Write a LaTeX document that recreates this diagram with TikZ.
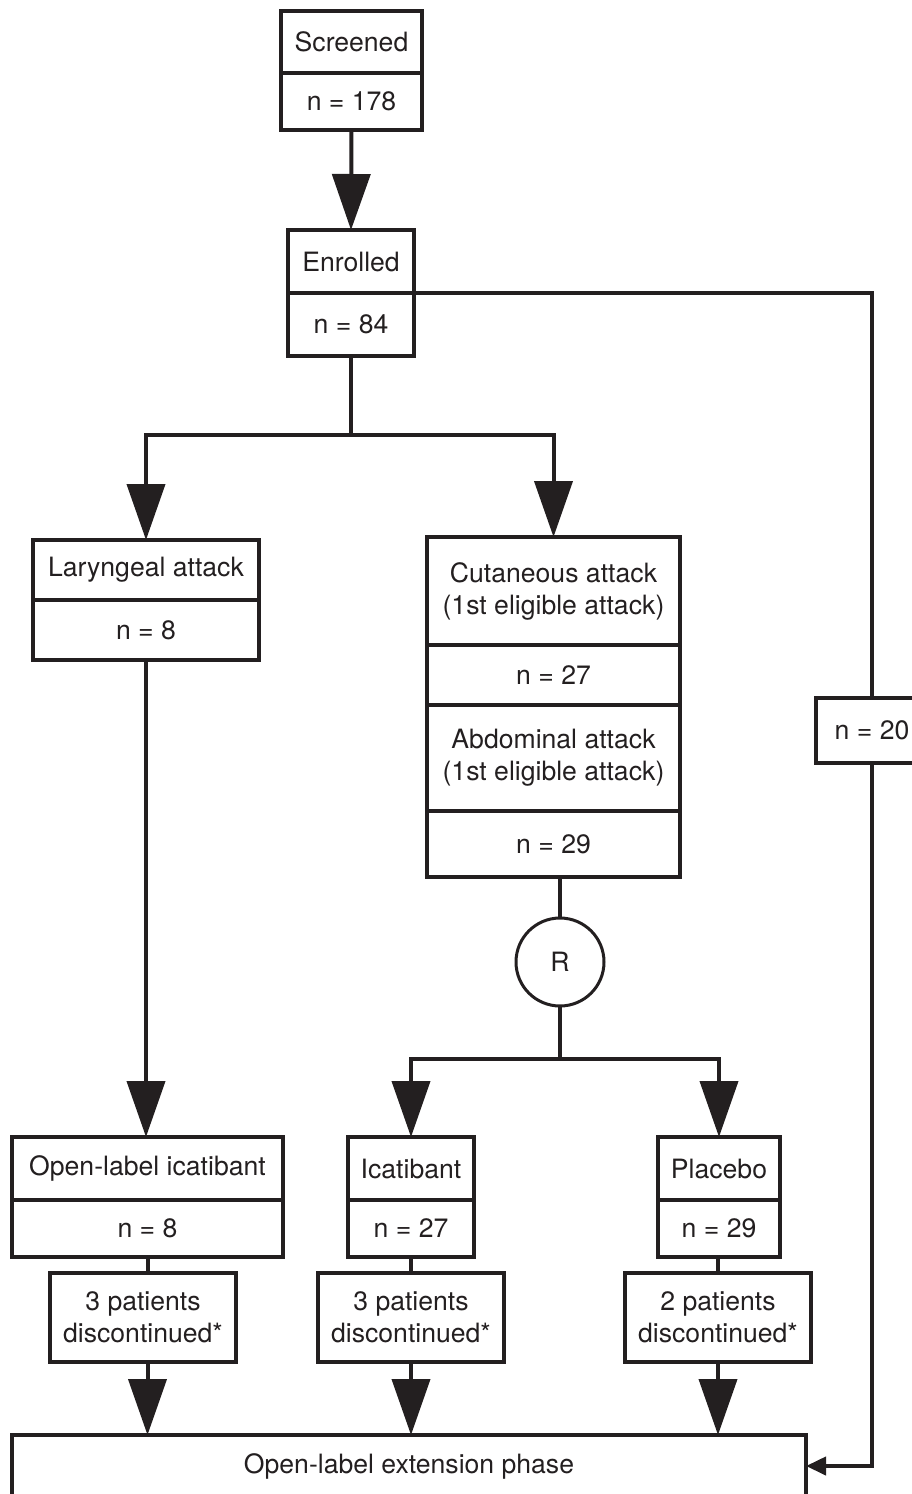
\documentclass[tikz,border=0pt]{standalone}
\usepackage{fontspec}
\setmainfont{TeX Gyre Heros}
\usepackage{xcolor}
\usepackage{tikz}
\usetikzlibrary{positioning,arrows.meta,calc}
\definecolor{flInk}{HTML}{231F20}
\newcommand{\flfont}{\fontsize{13.3}{16}\selectfont}
\tikzset{
  cell/.style={draw=flInk, line width=2pt, inner sep=0pt, outer sep=0pt, align=center, text=flInk, font=\flfont},
  conn/.style={draw=flInk, line width=2pt},
  arr/.style={conn, -{Triangle[length=28pt,width=19pt]}},
  arrs/.style={conn, -{Triangle[length=10pt,width=9pt]}},
  rand/.style={circle, draw=flInk, line width=1.5pt, minimum size=44pt, inner sep=0pt, outer sep=0pt, text=flInk, font=\flfont},
}

\begin{document}
\begin{tikzpicture}[x=0.5pt,y=-0.5pt]
  \useasboundingbox (0,0) rectangle (911,1494);
  % screened / enrolled
  \node[cell, minimum width=70.5pt, minimum height=31pt]   (scrT) at (351.5,42)    {Screened};
  \node[cell, minimum width=70.5pt, minimum height=28.5pt] (scrN) at (351.5,101.5) {n = 178};
  \node[cell, minimum width=63pt, minimum height=31.5pt]   (enrT) at (351,261.5)   {Enrolled};
  \node[cell, minimum width=63pt, minimum height=31.5pt]   (enrN) at (351,324.5)   {n = 84};
  % attack groups
  \node[cell, minimum width=113pt, minimum height=30pt] (larT) at (146,570) {Laryngeal attack};
  \node[cell, minimum width=113pt, minimum height=30pt] (larN) at (146,630) {n = 8};
  \node[cell, minimum width=126.5pt, minimum height=54pt] (cutA) at (553.5,591) {Cutaneous attack\\(1st eligible attack)};
  \node[cell, minimum width=126.5pt, minimum height=30pt] (cutB) at (553.5,675) {n = 27};
  \node[cell, minimum width=126.5pt, minimum height=53pt] (cutC) at (553.5,758) {Abdominal attack\\(1st eligible attack)};
  \node[cell, minimum width=126.5pt, minimum height=33pt] (cutD) at (553.5,844) {n = 29};
  \node[cell, minimum width=56pt, minimum height=32.5pt] (n20) at (872,730.5) {n = 20};
  \node[rand] (rnd) at (560,962) {R};
  % treatment arms
  \node[cell, minimum width=135.5pt, minimum height=31.5pt] (olT) at (147.5,1168.5) {Open-label icatibant};
  \node[cell, minimum width=135.5pt, minimum height=28.5pt] (olN) at (147.5,1228.5) {n = 8};
  \node[cell, minimum width=63pt, minimum height=31.5pt]    (icaT) at (411,1168.5)  {Icatibant};
  \node[cell, minimum width=63pt, minimum height=28.5pt]    (icaN) at (411,1228.5)  {n = 27};
  \node[cell, minimum width=61pt, minimum height=31.5pt]    (plaT) at (719,1168.5)  {Placebo};
  \node[cell, minimum width=61pt, minimum height=28.5pt]    (plaN) at (719,1228.5)  {n = 29};
  \node[cell, minimum width=93pt, minimum height=44.5pt] (dis1) at (143,1317.5) {3 patients\\discontinued*};
  \node[cell, minimum width=93pt, minimum height=44.5pt] (dis2) at (411,1317.5) {3 patients\\discontinued*};
  \node[cell, minimum width=93pt, minimum height=44.5pt] (dis3) at (718,1317.5) {2 patients\\discontinued*};
  \node[cell, minimum width=397pt, minimum height=31pt] (ext) at (409,1466) {Open-label extension phase};
  % connectors
  \draw[arr] (scrN.south) -- (enrT.north);
  \draw[conn] (enrN.south) -- ++(0,79) coordinate (enrSplit);
  \draw[arr] (enrSplit) -| (larT.north);
  \draw[arr] (enrSplit) -| (cutA.north);
  \draw[conn] (enrT.south east) -| (n20.north);
  \draw[arrs] (n20.south) |- (ext.east);
  \draw[arr] (larN.south) -- (larN.south |- olT.north);
  \draw[conn] (cutD.south -| rnd.north) -- (rnd.north);
  \draw[conn] (rnd.south) -- ++(0,53) coordinate (rndSplit);
  \draw[arr] (rndSplit) -| (icaT.north);
  \draw[arr] (rndSplit) -| (plaT.north);
  \draw[conn] (olN.south) -- (olN.south |- dis1.north);
  \draw[conn] (icaN.south) -- (dis2.north);
  \draw[conn] (plaN.south -| dis3.north) -- (dis3.north);
  \draw[arr] (olN.south |- dis1.south) -- (olN.south |- ext.north);
  \draw[arr] (dis2.south) -- (dis2.south |- ext.north);
  \draw[arr] (dis3.south) -- (dis3.south |- ext.north);
\end{tikzpicture}
\end{document}
